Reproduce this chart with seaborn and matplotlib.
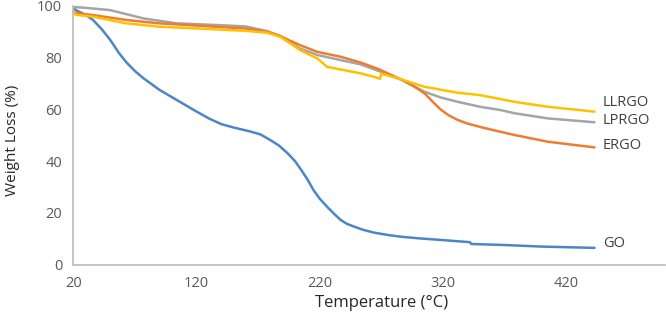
import matplotlib
matplotlib.use("Agg")
import matplotlib.pyplot as plt
import seaborn as sns

# GO
temp_go = [20, 22, 30, 36, 43, 50, 57, 63, 70, 77, 90, 104, 118, 130, 140, 150, 164, 172, 180, 187,
           194, 200, 205, 210, 215, 220, 226, 232, 237, 242, 248, 255, 264, 275, 286, 300, 320, 342,
           343, 370, 400, 443]
wl_go = [99, 98.3, 96.5, 94.5, 91, 86.8, 81.8, 78.2, 74.8, 72, 67.5, 63.6, 59.7, 56.5, 54.3, 53, 51.4,
         50.3, 48.1, 46, 43, 40, 36.6, 33, 28.8, 25.5, 22.4, 19.5, 17.3, 15.8, 14.7, 13.5, 12.4,
         11.5, 10.8, 10.2, 9.5, 8.7, 8.0, 7.6, 7.0, 6.5]

# LPRGO
temp_lprgo = [20, 30, 50, 77, 104, 139, 160, 177, 188, 196, 204, 218, 237, 253, 268, 287, 305, 318,
              332, 350, 367, 378, 405, 443]
wl_lprgo = [99.5, 99.2, 98.3, 95.1, 93.2, 92.5, 92.0, 90.2, 88.3, 85.8, 83.5, 81.0, 79.0, 77.4, 74.8,
            71.3, 66.8, 64.6, 62.9, 61.0, 59.7, 58.5, 56.5, 55.0]

# ERGO
temp_ergo = [20, 25, 36, 63, 90, 139, 160, 177, 188, 196, 204, 218, 237, 253, 268, 287, 296, 305,
             312, 318, 325, 332, 340, 351, 367, 378, 405, 443]
wl_ergo = [97.5, 97, 96.4, 94.5, 93.2, 91.8, 91.2, 90.0, 88.3, 86.5, 84.8, 82.2, 80.3, 78.1, 75.5,
           71.3, 69, 66.2, 62.8, 60.0, 57.6, 55.9, 54.5, 53.1, 51.3, 50.1, 47.5, 45.3]

# LLRGO
temp_llrgo = [20, 22, 36, 63, 90, 139, 160, 177, 188, 196, 204, 212, 218, 226, 239, 253, 266, 269,
              270, 286, 305, 332, 350, 364, 378, 405, 443]
wl_llrgo = [98, 96.5, 95.8, 93.2, 91.9, 90.8, 90.3, 89.6, 88.0, 85.5, 82.9, 81, 79.7, 76.4, 75.2,
            73.9, 72.3, 71.8, 73.8, 71.6, 68.7, 66.4, 65.5, 64.2, 62.9, 61.0, 59.1]

series = [
    ("GO", temp_go, wl_go, "#4a86c8", 8.3),
    ("LPRGO", temp_lprgo, wl_lprgo, "#a5a5a5", 55.6),
    ("ERGO", temp_ergo, wl_ergo, "#ed7d31", 46.2),
    ("LLRGO", temp_llrgo, wl_llrgo, "#ffc000", 62.7),
]

sns.set_style("white")
plt.rcParams["font.family"] = ["Open Sans", "DejaVu Sans"]

fig = plt.figure(figsize=(6.66, 3.12), dpi=100)
ax = fig.add_axes([0.110, 0.1516, 0.888, 0.830])

for name, t, w, c, ly in series:
    sns.lineplot(x=t, y=w, color=c, lw=1.8, estimator=None, sort=False, ax=ax)
    ax.text(450, ly, name, ha="left", va="center", fontsize=10.5, color="#404040")

ax.set_xlim(20, 500)
ax.set_ylim(0, 100)
ax.set_xticks([20, 120, 220, 320, 420])
ax.set_yticks([0, 20, 40, 60, 80, 100])
ax.set_xlabel("Temperature (°C)", fontsize=12, color="#262626")
ax.set_ylabel("Weight Loss (%)", fontsize=11, color="#262626")
ax.xaxis.set_label_coords(0.521, -0.148)
ax.yaxis.set_label_coords(-0.103, 0.481)
for lab in (ax.xaxis.label, ax.yaxis.label):
    lab.set_va("center")

sns.despine(ax=ax)
for s in ["left", "bottom"]:
    ax.spines[s].set_color("#bfbfbf")
    ax.spines[s].set_linewidth(1.3)
ax.tick_params(direction="out", length=4, width=1, color="#bfbfbf", labelcolor="#595959",
               labelsize=10.5, pad=4)

fig.savefig("out.png", dpi=100)
